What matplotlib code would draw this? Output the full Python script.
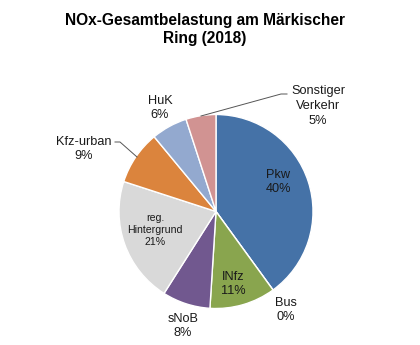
import matplotlib
matplotlib.use("Agg")
import matplotlib.pyplot as plt

plt.rcParams['font.family'] = ['Liberation Sans', 'DejaVu Sans']

# data
categories = ['Pkw', 'Bus', 'INfz', 'sNoB', 'reg.\nHintergrund', 'Kfz-urban', 'HuK', 'Sonstiger\nVerkehr']
shares = [40, 0, 11, 8, 21, 9, 6, 5]
colors = ['#4572A7', '#AA4643', '#89A54E', '#71588F', '#D9D9D9', '#DB843D', '#93A9CF', '#D19392']
title = 'NOx-Gesamtbelastung am Märkischer\nRing (2018)'

W, H = 420, 345
fig = plt.figure(figsize=(W / 100, H / 100), dpi=100)
ax = fig.add_axes([0, 0, 1, 1])

def py(y):  # pixel row -> data y
    return H - y

cx, cy, r = 216, 211.5, 97
ax.pie(shares, colors=colors, startangle=90, counterclock=False,
       center=(cx, py(cy)), radius=r, frame=True,
       wedgeprops=dict(edgecolor='white', linewidth=1))
ax.set_xlim(0, W); ax.set_ylim(0, H)
ax.set_aspect('equal')
ax.axis('off')

# label positions in pixels (center of text block)
label_pos = [(278, 182), (286, 310), (233, 284), (183, 326), (155, 230),
             (84, 149), (160, 108), (318, 106)]
for cat, val, (x, y) in zip(categories, shares, label_pos):
    fs = 7.6 if cat.startswith('reg') else 9.2
    ax.text(x, py(y), f'{cat}\n{val}%', ha='center', va='center',
            fontsize=fs, color='#1a1a1a', linespacing=1.3)

# leader lines
ax.plot([115, 120, 137], [py(142), py(142), py(157)], color='#555555', lw=0.7)
ax.plot([287, 281, 201], [py(94), py(94), py(116)], color='#555555', lw=0.7)

fig.text(205 / W, 1 - 29 / H, title, ha='center', va='center',
         fontsize=11.2, fontweight='bold', linespacing=1.25)

fig.savefig('out.png', dpi=100)
